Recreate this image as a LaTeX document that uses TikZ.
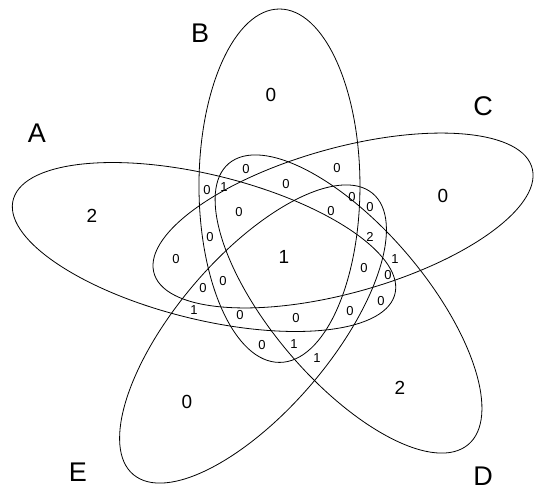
\documentclass[tikz,border=0pt]{standalone}
\usepackage{fontspec}
\setmainfont{Liberation Sans}
\usetikzlibrary{positioning}

\begin{document}
\begin{tikzpicture}[
  x=1pt, y=-1pt,
  line width=0.8pt,
  every node/.style={inner sep=0pt},
  setlabel/.style={font=\fontsize{27}{29}\selectfont},
  bignum/.style={font=\fontsize{19}{21}\selectfont},
  smallnum/.style={font=\fontsize{13}{15}\selectfont}
]
\useasboundingbox (0,0) rectangle (534,491);

% 五つの楕円（横方向に引き伸ばし）
\begin{scope}[xscale=1.121]
  \foreach \cx/\cy/\ang in {182.0/247/-16, 249.3/185.7/90,
                            306.0/220.5/18, 310.9/304/-54, 225.7/334/54}{
    \draw[rotate around={\ang:(\cx,\cy)}]
      (\cx,\cy) ellipse[x radius=176.7, y radius=71.8];
  }
\end{scope}

% 集合名
\node[setlabel] (labA) at (37,133) {A};
\node[setlabel] (labB) at (200,33) {B};
\node[setlabel] (labC) at (483,106) {C};
\node[setlabel] (labD) at (483,476) {D};
\node[setlabel] (labE) at (78,472) {E};

% 外側と中央の個数
\node[bignum] (onlyA) at (92,216) {2};
\node[bignum] (onlyB) at (271,95) {0};
\node[bignum] (onlyC) at (443,196) {0};
\node[bignum] (onlyD) at (400,388) {2};
\node[bignum] (onlyE) at (187,402) {0};
\node[bignum] (all) at (284,257) {1};

% 内側の個数
\foreach \x/\y/\t [count=\i] in {
  246/169/0, 337/168/0, 207/190/0, 224/187/1, 286/184/0,
  352/197/0, 370/207/0, 239/212/0, 331/211/0, 210/237/0,
  370/237/2, 176/259/0, 364/268/0, 395/259/1, 388/275/0,
  203/288/0, 223/281/0, 381/301/0, 194/310/1, 240/315/0,
  296/318/0, 350/311/0, 262/345/0, 294/344/1, 317/358/1}{
  \node[smallnum] (reg\i) at (\x,\y) {\t};
}

\end{tikzpicture}
\end{document}
